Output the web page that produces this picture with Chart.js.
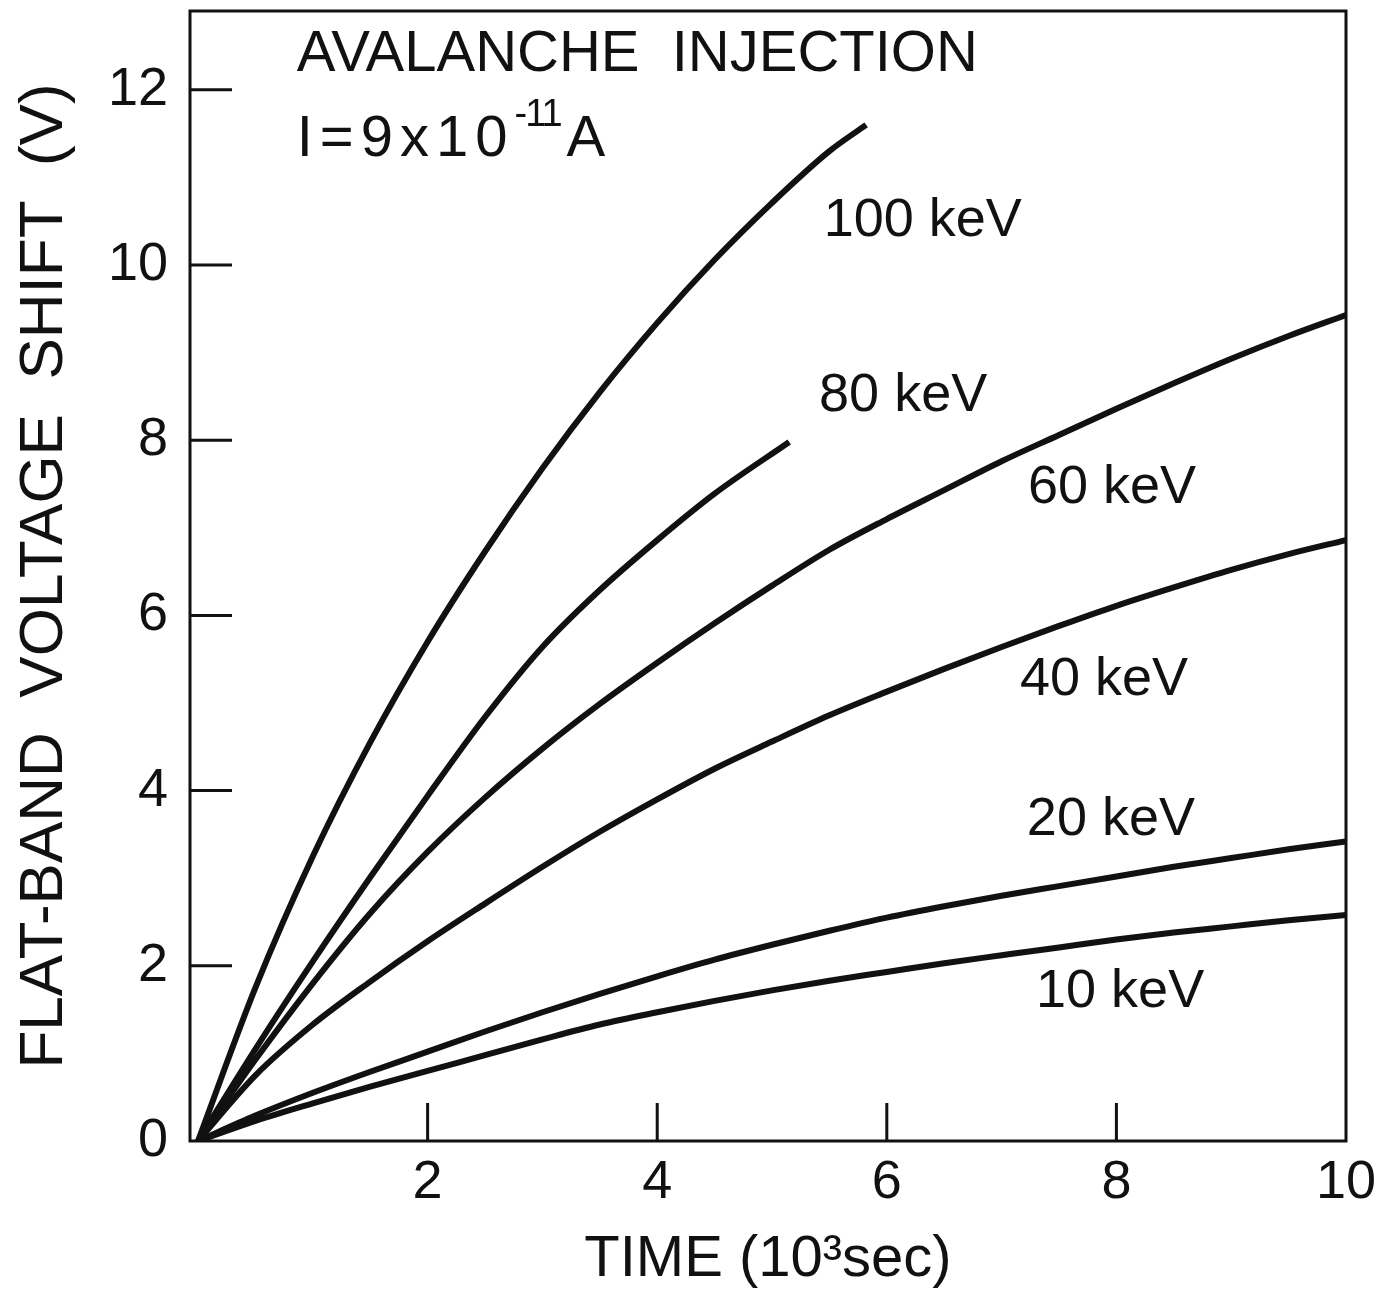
<!DOCTYPE html>
<html lang="en">
<head>
<meta charset="UTF-8">
<title>Avalanche injection - flat-band voltage shift</title>
<script src="https://cdn.jsdelivr.net/npm/chart.js@4.4.1/dist/chart.umd.min.js"></script>
<style>
  html, body { margin: 0; padding: 0; background: #fff; }
  #wrap { width: 1392px; height: 1289px; }
</style>
</head>
<body>
<div id="wrap"><canvas id="chart" width="1392" height="1289"></canvas></div>
<script>
// time in 10^3 sec, flat-band shift in V
const t100 = [0, 0.5, 1, 1.5, 2, 2.5, 3, 3.5, 4, 4.5, 5, 5.5, 5.82];
const v100 = [0, 1.75, 3.25, 4.55, 5.7, 6.73, 7.68, 8.55, 9.34, 10.06, 10.71, 11.3, 11.6];

const t80 = [0, 0.5, 1, 1.5, 2, 2.5, 3, 3.5, 4, 4.5, 5.15];
const v80 = [0, 1.05, 2.05, 3.01, 3.94, 4.84, 5.64, 6.29, 6.86, 7.39, 7.98];

const t60 = [0, 0.5, 1, 1.5, 2, 2.5, 3, 3.5, 4, 4.5, 5, 5.5, 6, 6.5, 7, 7.5, 8, 8.5, 9, 9.5, 10];
const v60 = [0, 0.93, 1.8, 2.6, 3.3, 3.92, 4.48, 4.99, 5.46, 5.91, 6.34, 6.75, 7.1, 7.43, 7.76, 8.06, 8.36, 8.65, 8.93, 9.19, 9.43];

const t40 = [0, 0.5, 1, 1.5, 2, 2.5, 3, 3.5, 4, 4.5, 5, 5.5, 6, 6.5, 7, 7.5, 8, 8.5, 9, 9.5, 10];
const v40 = [0, 0.75, 1.33, 1.82, 2.28, 2.71, 3.13, 3.53, 3.9, 4.25, 4.56, 4.86, 5.13, 5.39, 5.64, 5.88, 6.11, 6.32, 6.52, 6.7, 6.86];

const t20 = [0, 0.5, 1, 1.5, 2, 2.5, 3, 3.5, 4, 4.5, 5, 5.5, 6, 6.5, 7, 7.5, 8, 8.5, 9, 9.5, 10];
const v20 = [0, 0.29, 0.55, 0.79, 1.02, 1.25, 1.47, 1.68, 1.88, 2.07, 2.24, 2.4, 2.55, 2.68, 2.8, 2.91, 3.02, 3.13, 3.23, 3.33, 3.42];

const t10 = [0, 0.5, 1, 1.5, 2, 2.5, 3, 3.5, 4, 4.5, 5, 5.5, 6, 6.5, 7, 7.5, 8, 8.5, 9, 9.5, 10];
const v10 = [0, 0.23, 0.43, 0.62, 0.8, 0.98, 1.16, 1.33, 1.47, 1.6, 1.72, 1.83, 1.93, 2.03, 2.12, 2.21, 2.3, 2.38, 2.45, 2.52, 2.58];

const xTicks = [2, 4, 6, 8, 10];
const yTicks = [0, 2, 4, 6, 8, 10, 12];

const curveNames = ['100 keV', '80 keV', '60 keV', '40 keV', '20 keV', '10 keV'];
// where each curve name sits, in data units (left edge, middle)
const nameAt = [[5.45, 10.5], [5.41, 8.5], [7.23, 7.45], [7.16, 5.26], [7.22, 3.66], [7.3, 1.7]];

const FONT = '"Liberation Sans", "DejaVu Sans", sans-serif';
const INK = '#111';

function pairs(ts, vs) {
  return ts.map((t, i) => ({x: t, y: vs[i]}));
}

const series = [
  pairs(t100, v100), pairs(t80, v80), pairs(t60, v60),
  pairs(t40, v40), pairs(t20, v20), pairs(t10, v10)
];

const decor = {
  id: 'decor',
  afterDraw(chart) {
    const {ctx, chartArea: a, scales: {x, y}} = chart;
    ctx.save();
    ctx.strokeStyle = INK;
    ctx.lineWidth = 3;
    ctx.strokeRect(a.left, a.top, a.right - a.left, a.bottom - a.top);

    // tick marks point into the plot
    ctx.beginPath();
    yTicks.filter(v => v > 0).forEach(v => {
      const py = y.getPixelForValue(v);
      ctx.moveTo(a.left, py);
      ctx.lineTo(a.left + 42, py);
    });
    xTicks.filter(v => v < 10).forEach(v => {
      const px = x.getPixelForValue(v);
      ctx.moveTo(px, a.bottom);
      ctx.lineTo(px, a.bottom - 38);
    });
    ctx.stroke();

    ctx.fillStyle = INK;
    ctx.textBaseline = 'middle';
    ctx.textAlign = 'left';

    ctx.font = '54px ' + FONT;
    curveNames.forEach((n, i) => {
      ctx.fillText(n, x.getPixelForValue(nameAt[i][0]), y.getPixelForValue(nameAt[i][1]));
    });

    // header text
    const hx = x.getPixelForValue(0.86);
    ctx.font = '58px ' + FONT;
    ctx.fillText('AVALANCHE  INJECTION', hx, y.getPixelForValue(12.4));
    const hy = y.getPixelForValue(11.43);
    let cx = hx;
    ctx.letterSpacing = '7px';
    ctx.fillText('I=9x10', cx, hy);
    cx += ctx.measureText('I=9x10').width;
    ctx.letterSpacing = '-2px';
    ctx.font = '38px ' + FONT;
    ctx.fillText('-11', cx, hy - 24);
    cx += ctx.measureText('-11').width + 6;
    ctx.font = '58px ' + FONT;
    ctx.letterSpacing = '0px';
    ctx.fillText('A', cx, hy);
    ctx.restore();
  }
};

new Chart(document.getElementById('chart'), {
  type: 'line',
  data: {
    datasets: series.map((d, i) => ({
      label: curveNames[i],
      data: d,
      borderColor: INK,
      borderWidth: 6,
      pointRadius: 0,
      fill: false,
      cubicInterpolationMode: 'monotone'
    }))
  },
  options: {
    responsive: false,
    animation: false,
    layout: {padding: {top: 11, right: 46, left: 0, bottom: 0}},
    plugins: {legend: {display: false}, tooltip: {enabled: false}},
    scales: {
      x: {
        type: 'linear',
        min: -0.07,
        max: 10,
        afterBuildTicks: s => { s.ticks = xTicks.map(v => ({value: v})); },
        afterFit: s => { s.height = 148; s.paddingLeft = 0; s.paddingRight = 0; },
        grid: {display: false, drawTicks: false},
        border: {display: false},
        ticks: {color: INK, padding: 10, font: {family: FONT, size: 54}},
        title: {
          display: true,
          text: 'TIME (10³sec)',
          color: INK,
          font: {family: FONT, size: 58, lineHeight: 1},
          padding: {top: 4, bottom: 0}
        }
      },
      y: {
        type: 'linear',
        min: 0,
        max: 12.9,
        afterBuildTicks: s => { s.ticks = yTicks.map(v => ({value: v})); },
        afterFit: s => { s.width = 190; s.paddingTop = 0; s.paddingBottom = 0; },
        grid: {display: false, drawTicks: false},
        border: {display: false},
        ticks: {color: INK, padding: 22, font: {family: FONT, size: 54}},
        title: {
          display: true,
          text: 'FLAT-BAND  VOLTAGE  SHIFT  (V)',
          color: INK,
          font: {family: FONT, size: 62, lineHeight: 1},
          padding: {top: 14, bottom: 0}
        }
      }
    }
  },
  plugins: [decor]
});
</script>
</body>
</html>
